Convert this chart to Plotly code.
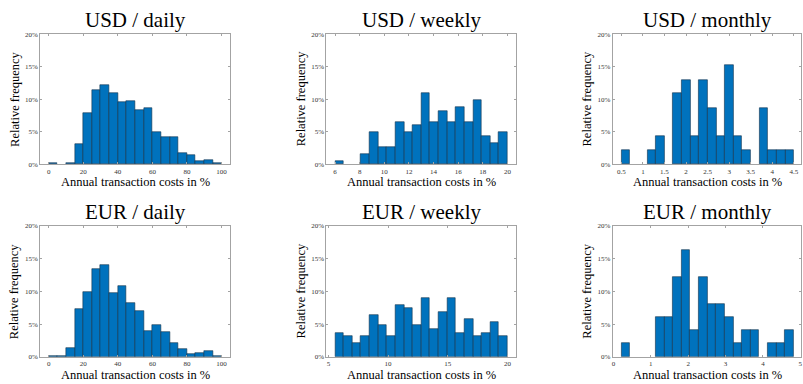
import numpy as np
import plotly.graph_objects as go

# Relative frequency (%) per histogram bin, 20 bins per panel
usd_daily_freq = [0.2, 0, 0.2, 3.15, 7.9, 11.35, 12.2, 10.9, 9.5, 9.7,
                  8.3, 8.6, 4.9, 4.15, 4.2, 1.8, 1.4, 0.45, 0.7, 0.2]
usd_weekly_freq = [0.55, 0, 0, 1.6, 4.9, 2.7, 2.7, 6.55, 4.9, 6.0,
                   10.9, 6.55, 8.2, 6.55, 8.75, 6.55, 9.85, 4.35, 3.25, 4.9]
usd_monthly_freq = [2.15, 0, 0, 2.15, 4.35, 0, 10.9, 13.0, 4.35, 13.0,
                    8.7, 4.35, 15.2, 4.35, 2.15, 0, 8.7, 2.15, 2.15, 2.15]
eur_daily_freq = [0.2, 0.2, 1.3, 7.35, 9.9, 13.4, 14.0, 9.7, 10.9, 8.2,
                  6.95, 4.0, 4.8, 3.8, 2.05, 1.2, 0.45, 0.6, 0.85, 0.2]
eur_weekly_freq = [3.7, 3.2, 2.15, 3.2, 6.35, 4.8, 3.2, 7.95, 7.4, 4.8,
                   9.0, 4.25, 6.9, 9.0, 3.7, 5.85, 3.2, 3.7, 5.3, 3.2]
eur_monthly_freq = [2.05, 0, 0, 0, 6.1, 6.1, 12.2, 16.3, 4.1, 12.2,
                    8.15, 8.15, 6.1, 2.05, 4.1, 4.1, 0, 2.05, 2.05, 4.1]

# First bin edge and bin width (annual transaction costs in %)
usd_daily_bins = (0.0, 5.0)
usd_weekly_bins = (6.0, 0.7)
usd_monthly_bins = (0.5, 0.2)
eur_daily_bins = (0.0, 5.0)
eur_weekly_bins = (5.56, 0.722)
eur_monthly_bins = (0.21, 0.2305)

# x tick values per panel
daily_ticks = [0, 20, 40, 60, 80, 100]
usd_weekly_ticks = [6, 8, 10, 12, 14, 16, 18, 20]
usd_monthly_ticks = [0.5, 1, 1.5, 2, 2.5, 3, 3.5, 4, 4.5]
eur_weekly_ticks = [5, 10, 15, 20]
eur_monthly_ticks = [0, 1, 2, 3, 4, 5]
y_ticks = [0, 5, 10, 15, 20]
y_tick_labels = ["0%", "5%", "10%", "15%", "20%"]

titles = ["USD / daily", "USD / weekly", "USD / monthly",
          "EUR / daily", "EUR / weekly", "EUR / monthly"]

W, H = 803, 384

panels = [
    dict(freq=usd_daily_freq, bins=usd_daily_bins, ticks=daily_ticks, xr=[-5, 105]),
    dict(freq=usd_weekly_freq, bins=usd_weekly_bins, ticks=usd_weekly_ticks, xr=[5.3, 20.7]),
    dict(freq=usd_monthly_freq, bins=usd_monthly_bins, ticks=usd_monthly_ticks, xr=[0.3, 4.665]),
    dict(freq=eur_daily_freq, bins=eur_daily_bins, ticks=daily_ticks, xr=[-5, 105]),
    dict(freq=eur_weekly_freq, bins=eur_weekly_bins, ticks=eur_weekly_ticks, xr=[4.84, 20.72]),
    dict(freq=eur_monthly_freq, bins=eur_monthly_bins, ticks=eur_monthly_ticks, xr=[-0.02, 5.02]),
]

# Plot-area boxes in pixels: columns (left, right), rows (top, bottom)
cols_px = [(39.3, 230.0), (326.7, 517.0), (614.0, 803.0)]
rows_px = [(30.7, 163.7), (226.7, 360.3)]

FONT = "Liberation Serif"
AXIS_COLOR = "#a3a3a3"
BAR_COLOR = "#0072BD"
EDGE_COLOR = "#123049"

fig = go.Figure()
annotations = []

for i, p in enumerate(panels):
    r, c = divmod(i, 3)
    n = i + 1
    xa = "x" if n == 1 else f"x{n}"
    ya = "y" if n == 1 else f"y{n}"
    start, width = p["bins"]
    freq = np.array(p["freq"], dtype=float)
    centers = start + width * (np.arange(len(freq)) + 0.5)
    filled = freq > 0  # empty bins draw nothing

    fig.add_trace(go.Bar(
        x=centers[filled], y=freq[filled], width=width,
        marker=dict(color=BAR_COLOR, line=dict(color=EDGE_COLOR, width=0.6)),
        xaxis=xa, yaxis=ya, showlegend=False,
    ))

    x0, x1 = cols_px[c]
    t0, t1 = rows_px[r]
    xdom = [x0 / W, min(x1 / W, 1.0)]
    ydom = [1 - t1 / H, 1 - t0 / H]

    axis_common = dict(
        showline=True, linecolor=AXIS_COLOR, linewidth=1, mirror="ticks",
        ticks="inside", ticklen=2, tickcolor=AXIS_COLOR, tickwidth=1,
        showgrid=False, zeroline=False, ticklabeloverflow="allow",
        tickfont=dict(family=FONT, size=7, color="#333333"),
    )
    fig.update_layout(**{
        ("xaxis" if n == 1 else f"xaxis{n}"): dict(
            domain=xdom, range=p["xr"], anchor=ya,
            tickmode="array", tickvals=p["ticks"], **axis_common),
        ("yaxis" if n == 1 else f"yaxis{n}"): dict(
            domain=ydom, range=[0, 20], anchor=xa,
            tickmode="array", tickvals=y_ticks, ticktext=y_tick_labels,
            **axis_common),
    })

    xc = (x0 + x1) / 2 / W if c < 2 else (x0 + 804.5) / 2 / W
    # panel title
    annotations.append(dict(
        text=titles[i], x=xc, y=1 - (t0 - 14.2) / H, xref="paper", yref="paper",
        xanchor="center", yanchor="middle", showarrow=False,
        font=dict(family=FONT, size=21, color="#000000")))
    # x-axis label
    annotations.append(dict(
        text="Annual transaction costs in %", x=xc, y=1 - (t1 + 18.5) / H,
        xref="paper", yref="paper", xanchor="center", yanchor="middle",
        showarrow=False, font=dict(family=FONT, size=12.5, color="#000000")))
    # y-axis label
    annotations.append(dict(
        text="Relative frequency", x=(x0 - 25.5) / W, y=1 - (t0 + t1) / 2 / H,
        xref="paper", yref="paper", xanchor="center", yanchor="middle",
        textangle=-90, showarrow=False,
        font=dict(family=FONT, size=12.5, color="#000000")))

fig.update_layout(
    width=W, height=H,
    margin=dict(l=0, r=0, t=0, b=0),
    paper_bgcolor="white", plot_bgcolor="white",
    bargap=0, annotations=annotations,
    font=dict(family=FONT),
)

fig.write_html("out.html")
